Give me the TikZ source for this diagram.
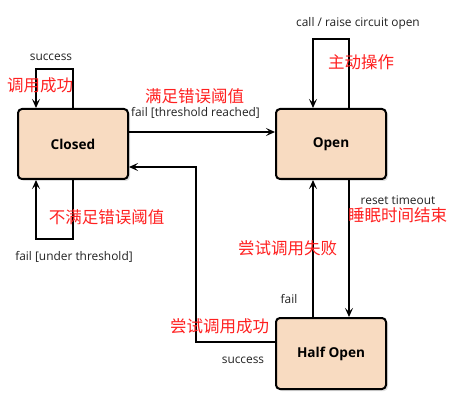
\documentclass[tikz,border=0pt]{standalone}
\usepackage{fontspec}
\setmainfont{Open Sans}
\newfontfamily\cjk{Noto Sans CJK SC}
\usetikzlibrary{arrows.meta,shadows,calc}
\definecolor{boxfill}{RGB}{248,219,193}
\definecolor{labred}{RGB}{255,32,32}
\definecolor{labgray}{RGB}{34,34,34}
\tikzset{
  state/.style={draw=black, line width=2pt, rounded corners=4pt, fill=boxfill,
    minimum width=110pt, minimum height=70pt, inner sep=0pt,
    font=\fontsize{13.6}{15}\selectfont\bfseries,
    drop shadow={opacity=0.25, shadow xshift=2pt, shadow yshift=-2pt}},
  conn/.style={draw=black, line width=2pt},
  arr/.style={conn, -{Stealth[length=9pt,width=8pt,inset=4pt]}},
  lab/.style={text=labgray, font=\fontsize{11.9}{13}\selectfont, inner sep=0pt},
  red/.style={text=labred, font=\cjk\fontsize{16.5}{18}\selectfont, inner sep=0pt}
}
\begin{document}
\begin{tikzpicture}[x=1pt,y=-1pt]
\useasboundingbox (0,0) rectangle (450,406);
\node[state] (closed) at (73,144) {Closed};
\node[state] (open) at (331,144) {Open};
\node[state, minimum height=71pt] (half) at (331,353.5) {Half Open};

\coordinate (c1) at (36,69);
\coordinate (c2) at (36,239);
\coordinate (c3) at (196,167);
\coordinate (c4) at (313,39);

% Closed self loop top
\draw[arr] (closed.north) |- (c1) -- (c1 |- closed.north);
% Closed self loop bottom
\draw[arr] (closed.south) |- (c2) -- (c2 |- closed.south);
% Closed -> Open
\draw[arr] ([yshift=12pt]closed.east) -- ([yshift=12pt]open.west);
% Half Open -> Closed
\draw[arr] ([yshift=11.5pt]half.west) -| (c3) -- (c3 -| closed.east);
% Half Open -> Open (fail)
\draw[arr] ([xshift=-18pt]half.north) -- ([xshift=-18pt]open.south);
% Open -> Half Open (reset timeout)
\draw[arr] ([xshift=18pt]open.south) -- ([xshift=18pt]half.north);
% Open self loop
\draw[arr] ([xshift=18pt]open.north) |- (c4) -- (c4 |- open.north);

% labels
\node[lab] (l1) at (51,57) {success};
\node[red] (r1) at (40,85) {调用成功};
\node[lab] (l2) at (195.5,113) {fail [threshold reached]};
\node[red] (r2) at (194.5,96) {满足错误阈值};
\node[red] (r3) at (106.5,217) {不满足错误阈值};
\node[lab] (l3) at (74,257) {fail [under threshold]};
\node[lab] (l4) at (358,23) {call / raise circuit open};
\node[red] (r4) at (361,62) {主动操作};
\node[lab] (l5) at (398,200) {reset timeout};
\node[red] (r5) at (397.5,215.5) {睡眠时间结束};
\node[red] (r6) at (287.5,248) {尝试调用失败};
\node[lab] (l6) at (289,299) {fail};
\node[red] (r7) at (219.5,326) {尝试调用成功};
\node[lab] (l7) at (243,360) {success};
\end{tikzpicture}
\end{document}
